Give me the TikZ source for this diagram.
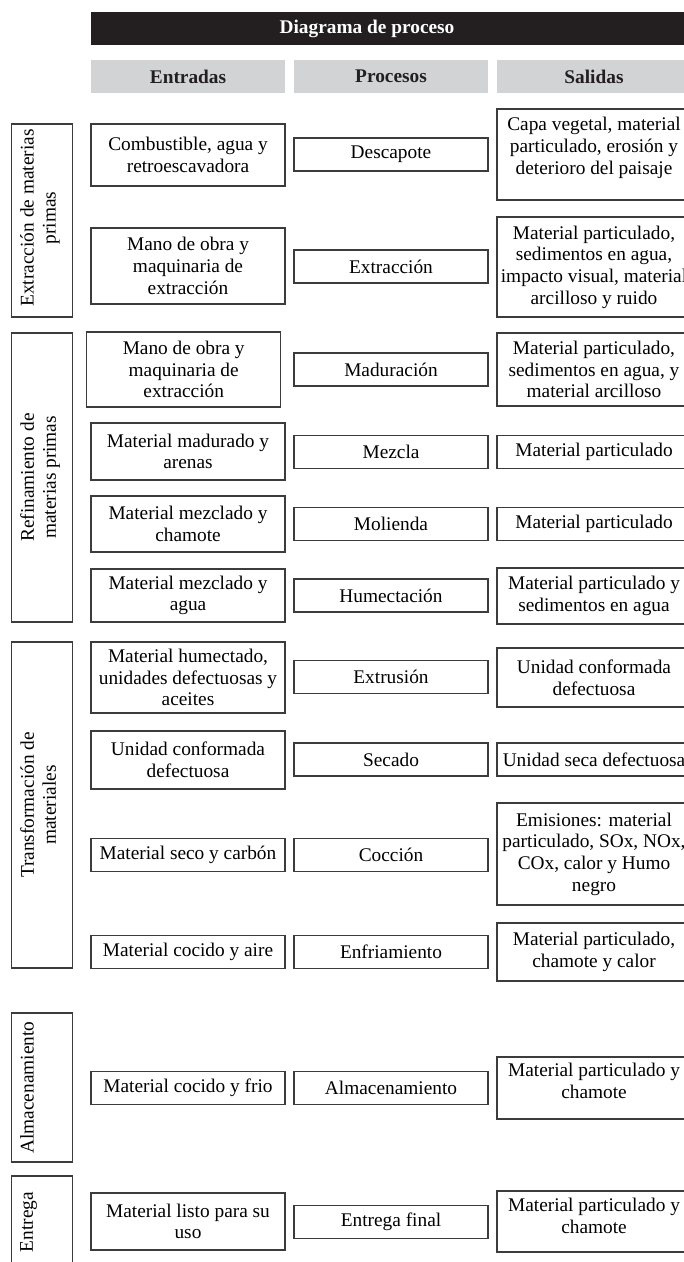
\documentclass[tikz,border=0pt]{standalone}
\usepackage{fontspec}
\setmainfont{Liberation Serif}

\definecolor{barra}{HTML}{231F20}
\definecolor{cabecera}{HTML}{D1D3D4}
\definecolor{borde}{HTML}{3C3C3C}

\tikzset{
  caja/.style={draw=borde, line width=0.8pt, align=center, inner sep=2pt,
    font=\fontsize{14.5}{16.3}\selectfont},
  entrada/.style={caja, minimum width=145.5pt},
  proceso/.style={caja, minimum width=145.5pt},
  salida/.style={caja, minimum width=145.5pt},
  lado/.style={caja, minimum width=45.75pt},
  ladotexto/.style={rotate=90, anchor=north, inner sep=0pt, align=center,
    font=\fontsize{14.5}{16.5}\selectfont},
  cabeza/.style={fill=cabecera, minimum width=145.5pt, minimum height=24.75pt,
    text=barra, font=\bfseries\fontsize{14.5}{16}\selectfont},
  alto/.style={minimum height=#1*0.75pt},
}

\begin{document}
\begin{tikzpicture}[x=0.75pt, y=-0.75pt]
\useasboundingbox (0,0) rectangle (684,1262);
\clip (0,0) rectangle (684,1262);

%---------------------------------------------------------------------------------------------------
\node[fill=barra, minimum width=620*0.75pt, alto=33] (barra) at (401,28.5) {};
\node[text=white, font=\bfseries\fontsize{14.5}{16}\selectfont] (titulo) at (367,28.5) {Diagrama de proceso};

\node[cabeza] (hent) at (188,76.5) {Entradas};
\node[cabeza] (hpro) at (391,76.5) {Procesos};
\node[cabeza] (hsal) at (594,76.5) {Salidas};

%---------------------------------------------------------------------------------------------------
\node[lado, alto=193] (lado1) at (42,220.5) {};
\node[ladotexto] (tlado1) at (20,218) {Extracción de materias\\primas};

\node[entrada, alto=62] (e1) at (188,155) {Combustible, agua y\\retroescavadora};
\node[proceso, alto=33] (p1) at (391,154.5) {Descapote};
\node[salida, alto=91] (s1) at (594,154.5) {};
\node[caja, draw=none] (s1t) at (594,148) {Capa vegetal, material\\particulado, erosión y\\deterioro del paisaje};

\node[entrada, alto=76] (e2) at (188,266) {Mano de obra y\\maquinaria de\\extracción};
\node[proceso, alto=33] (p2) at (391,266.5) {Extracción};
\node[salida, alto=100] (s2) at (594,267) {Material particulado,\\sedimentos en agua,\\impacto visual, material\\arcilloso y ruido};

%---------------------------------------------------------------------------------------------------
\node[lado, alto=289] (lado2) at (42,477.5) {};
\node[ladotexto] (tlado2) at (20,477.5) {Refinamiento de\\materias primas};

\node[entrada, alto=75] (e3) at (183.7,369.5) {Mano de obra y\\maquinaria de\\extracción};
\node[proceso, alto=33] (p3) at (391,369.5) {Maduración};
\node[salida, alto=73] (s3) at (594,369.5) {Material particulado,\\sedimentos en agua, y\\material arcilloso};

\node[entrada, alto=57] (e4) at (188,451.5) {Material madurado y\\arenas};
\node[proceso, alto=33] (p4) at (391,452) {Mezcla};
\node[salida, alto=33] (s4) at (594,452) {Material particulado};

\node[entrada, alto=56] (e5) at (188,524) {Material mezclado y\\chamote};
\node[proceso, alto=33] (p5) at (391,524) {Molienda};
\node[salida, alto=33] (s5) at (594,524) {Material particulado};

\node[entrada, alto=53] (e6) at (188,595.5) {Material mezclado y\\agua};
\node[proceso, alto=33] (p6) at (391,595.5) {Humectación};
\node[salida, alto=56] (s6) at (594,596) {Material particulado y\\sedimentos en agua};

%---------------------------------------------------------------------------------------------------
\node[lado, alto=326] (lado3) at (42,805) {};
\node[ladotexto] (tlado3) at (20,805) {Transformación de\\materiales};

\node[entrada, alto=71] (e7) at (188,677.5) {Material humectado,\\unidades defectuosas y\\aceites};
\node[proceso, alto=33] (p7) at (391,677) {Extrusión};
\node[salida, alto=59] (s7) at (594,677.5) {Unidad conformada\\defectuosa};

\node[entrada, alto=58] (e8) at (188,760) {Unidad conformada\\defectuosa};
\node[proceso, alto=33] (p8) at (391,759.5) {Secado};
\node[salida, alto=33] (s8) at (594,759.5) {Unidad seca defectuosa};

\node[entrada, alto=33] (e9) at (188,855) {Material seco y carbón};
\node[proceso, alto=33] (p9) at (391,855) {Cocción};
\node[salida, alto=102] (s9) at (594,854) {Emisiones: material\\particulado, SOx, NOx,\\COx, calor y Humo\\negro};

\node[entrada, alto=33] (e10) at (188,952) {Material cocido y aire};
\node[proceso, alto=33] (p10) at (391,952) {Enfriamiento};
\node[salida, alto=58] (s10) at (594,952) {Material particulado,\\chamote y calor};

%---------------------------------------------------------------------------------------------------
\node[lado, alto=149] (lado4) at (42,1087.5) {};
\node[ladotexto] (tlado4) at (20,1087.5) {Almacenamiento};

\node[entrada, alto=33] (e11) at (188,1088) {Material cocido y frio};
\node[proceso, alto=33] (p11) at (391,1088) {Almacenamiento};
\node[salida, alto=62] (s11) at (594,1088) {};
\node[caja, draw=none] (s11t) at (594,1081) {Material particulado y\\chamote};

%---------------------------------------------------------------------------------------------------
\node[lado, alto=92] (lado5) at (42,1222) {};
\node[ladotexto] (tlado5) at (20,1222) {Entrega};

\node[entrada, alto=57] (e12) at (188,1221.5) {Material listo para su\\uso};
\node[proceso, alto=33] (p12) at (391,1222) {Entrega final};
\node[salida, alto=61] (s12) at (594,1221.5) {};
\node[caja, draw=none] (s12t) at (594,1216) {Material particulado y\\chamote};

\end{tikzpicture}
\end{document}
